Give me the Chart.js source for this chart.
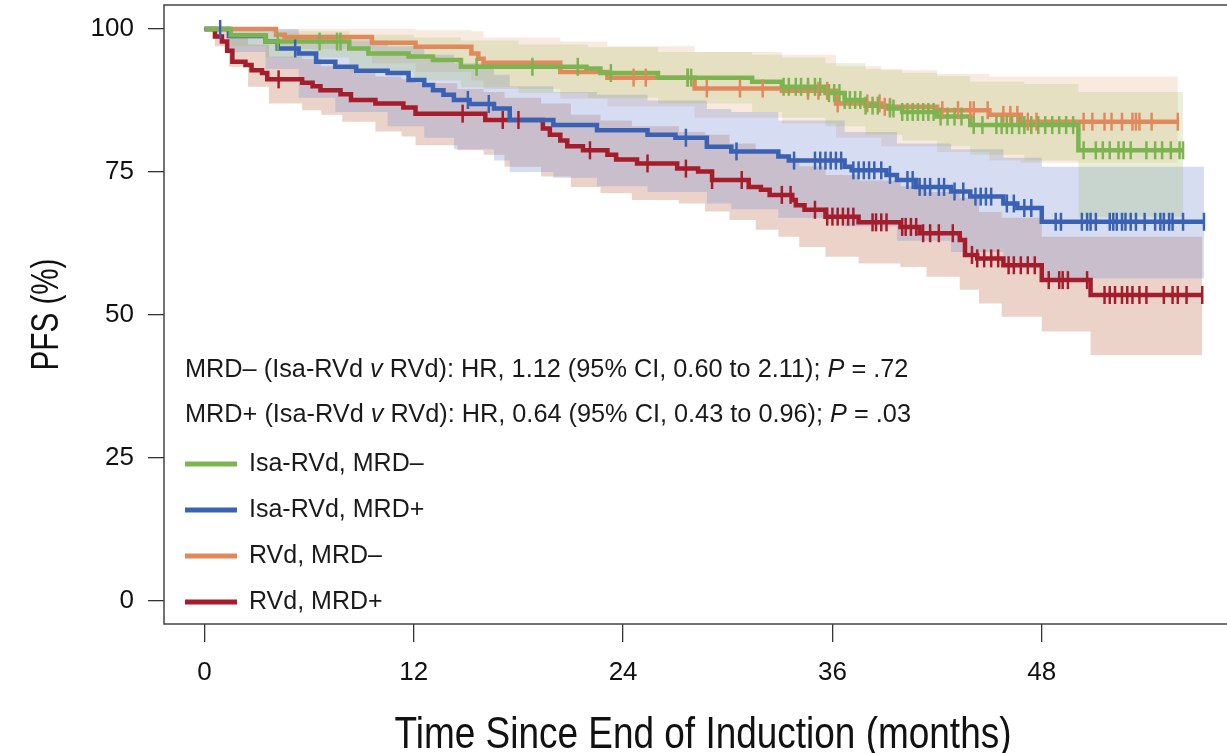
<!DOCTYPE html>
<html lang="en">
<head>
<meta charset="UTF-8">
<title>PFS by MRD status</title>
<style>
  body { margin: 0; background: #fff; }
  #wrap { width: 1227px; height: 753px; }
</style>
</head>
<body>
<div id="wrap"><canvas id="pfsChart" width="1227" height="753"></canvas></div>
<script src="https://cdn.jsdelivr.net/npm/chart.js"></script>
<script>
// axis ticks
const xTicks = [0, 12, 24, 36, 48];
const yTicks = [0, 25, 50, 75, 100];
const seriesNames = ['Isa-RVd, MRD–', 'Isa-RVd, MRD+', 'RVd, MRD–', 'RVd, MRD+'];
const xTitle = 'Time Since End of Induction (months)';
const yTitle = 'PFS (%)';

// Isa-RVd, MRD– : KM steps (months, PFS %)
const isaNegT = [0, 1.5, 3.5, 8.3, 9.4, 11.7, 13.1, 14.7, 21.9, 22.7, 26.0, 31.4, 33.1, 35.6, 36.7, 37.9, 39.1, 40.0, 42.0, 43.9, 50.1, 56.1];
const isaNegS = [100, 98.9, 97.8, 96.6, 95.7, 95.2, 94.6, 93.4, 93.1, 92.3, 91.5, 90.8, 89.9, 88.8, 87.6, 86.6, 86.1, 85.5, 84.7, 83.2, 78.8, 78.8];
const isaNegCiT = [0, 1.5, 3.5, 8.3, 12.0, 14.7, 18.0, 22.0, 26.0, 31.4, 33.1, 35.6, 37.9, 40.0, 42.0, 43.9, 47.0, 50.1, 56.1];
const isaNegLo = [100, 97.0, 95.0, 92.5, 91.0, 89.8, 88.8, 88.0, 87.0, 85.5, 84.5, 83.0, 81.5, 80.5, 79.5, 78.0, 77.0, 67.2, 67.2];
const isaNegHi = [100, 100, 99.6, 99.0, 98.5, 98.0, 97.3, 96.8, 96.0, 95.5, 95.0, 94.0, 93.0, 92.3, 91.8, 90.8, 90.4, 89.0, 89.0];
const isaNegCens = [4.2, 6.6, 7.6, 7.8, 15.6, 18.8, 21.4, 23.3, 27.7, 27.9, 33.2, 33.5, 33.9, 34.2, 34.6, 35.0, 35.3, 35.8, 36.1, 36.4, 36.7, 37.0, 37.3, 37.6, 37.9, 38.3, 38.6, 39.3, 39.5, 40.0, 40.3, 40.6, 40.9, 41.2, 41.5, 41.8, 42.2, 42.6, 43.0, 43.4, 44.1, 44.6, 45.4, 45.7, 46.0, 46.3, 46.7, 47.0, 47.4, 47.8, 48.2, 48.6, 49.0, 49.4, 49.8, 50.4, 51.1, 51.5, 51.9, 52.4, 52.7, 53.1, 54.0, 54.5, 54.9, 55.4, 55.9, 56.1];

// Isa-RVd, MRD+
const isaPosT = [0, 1.4, 3.5, 4.2, 5.4, 6.4, 7.5, 8.7, 10.5, 11.7, 12.6, 13.1, 13.7, 14.3, 15.2, 16.6, 17.5, 20.0, 22.5, 25.4, 27.0, 28.8, 30.2, 32.9, 33.5, 36.7, 37.1, 39.1, 39.7, 40.8, 42.8, 43.9, 45.8, 46.6, 48.0, 57.3];
const isaPosS = [100, 98.8, 97.8, 96.6, 95.7, 94.3, 93.4, 92.7, 92.3, 91.1, 90.2, 89.3, 88.5, 87.6, 86.9, 86.1, 84.1, 83.2, 82.3, 81.5, 81.0, 79.4, 78.6, 77.7, 77.0, 75.9, 75.3, 74.5, 73.6, 72.4, 71.6, 70.7, 69.5, 68.7, 66.3, 66.3];
const isaPosCiT = [0, 1.4, 3.5, 5.4, 7.5, 10.5, 12.6, 14.3, 16.6, 17.5, 20.0, 22.5, 25.4, 28.8, 30.2, 32.9, 36.7, 39.7, 42.8, 45.8, 48.0, 57.3];
const isaPosLo = [100, 96.0, 93.0, 88.0, 85.5, 83.0, 81.0, 79.0, 77.0, 75.0, 74.0, 72.5, 71.5, 69.5, 68.5, 67.0, 65.5, 63.0, 61.0, 59.0, 56.4, 56.4];
const isaPosHi = [100, 100, 100, 99.0, 98.0, 97.0, 95.5, 94.0, 92.0, 90.0, 89.0, 88.5, 87.5, 86.0, 85.5, 84.0, 82.0, 80.0, 79.0, 77.5, 75.9, 75.9];
const isaPosCens = [0.9, 5.2, 15.1, 16.3, 27.6, 30.5, 33.8, 35.0, 35.3, 35.6, 35.9, 36.2, 36.5, 37.2, 37.5, 37.8, 38.1, 38.4, 38.8, 39.3, 40.3, 40.6, 41.0, 41.3, 41.6, 42.1, 42.4, 43.0, 43.5, 44.2, 44.5, 44.8, 45.1, 46.0, 46.4, 47.0, 47.4, 48.8, 49.1, 50.3, 50.6, 50.8, 51.1, 51.9, 52.1, 52.3, 52.6, 52.8, 53.1, 53.4, 53.9, 54.5, 54.8, 55.0, 55.3, 55.5, 56.1, 57.3];

// RVd, MRD–
const rvdNegT = [0, 4.1, 4.6, 9.6, 12.1, 15.3, 15.7, 16.0, 20.4, 23.1, 28.1, 33.1, 36.2, 38.8, 42.0, 45.0, 46.8, 55.8];
const rvdNegS = [100, 99.0, 98.6, 97.6, 96.9, 95.7, 94.8, 94.1, 92.5, 91.5, 89.6, 89.2, 87.0, 86.4, 85.8, 85.0, 83.8, 83.8];
const rvdNegCiT = [0, 4.1, 9.6, 12.1, 15.3, 16.0, 20.4, 23.1, 28.1, 33.1, 36.2, 38.8, 42.0, 45.0, 46.8, 55.8];
const rvdNegLo = [100, 96.5, 94.0, 92.5, 91.0, 89.5, 87.8, 86.5, 84.5, 83.5, 81.0, 79.5, 78.5, 77.0, 76.6, 76.6];
const rvdNegHi = [100, 100, 100, 99.8, 99.6, 98.5, 97.8, 97.0, 96.0, 95.5, 93.5, 92.8, 92.2, 91.7, 91.7, 91.7];
const rvdNegCens = [24.6, 25.3, 27.7, 28.8, 30.7, 32.0, 34.6, 35.2, 35.7, 36.3, 38.0, 38.7, 39.0, 39.3, 42.3, 43.2, 43.9, 44.1, 44.9, 45.8, 46.2, 46.6, 47.2, 47.7, 50.4, 50.9, 51.6, 52.0, 52.6, 53.2, 53.4, 53.6, 54.3, 55.8];

// RVd, MRD+
const rvdPosT = [0, 0.6, 1.0, 1.3, 1.6, 2.35, 2.7, 3.3, 3.6, 5.6, 6.2, 6.65, 7.8, 8.4, 9.8, 11.4, 12.1, 16.1, 19.4, 19.8, 20.4, 20.8, 21.7, 23.1, 23.6, 24.8, 27.1, 28.3, 29.1, 31.2, 31.9, 32.4, 33.7, 33.9, 34.4, 35.6, 37.5, 39.9, 41.0, 43.3, 43.6, 44.3, 45.8, 48.0, 50.8, 57.2];
const rvdPosS = [100, 98.7, 97.8, 96.2, 94.3, 93.7, 92.8, 92.3, 91.2, 90.6, 90.0, 89.3, 88.6, 87.6, 87.0, 86.3, 85.2, 84.1, 82.6, 81.5, 80.5, 79.5, 78.8, 78.0, 77.2, 76.5, 75.6, 75.1, 73.6, 72.4, 71.9, 71.0, 70.1, 69.2, 68.4, 67.2, 66.2, 65.4, 64.3, 63.1, 60.5, 59.9, 58.7, 56.1, 53.5, 53.5];
const rvdPosCiT = [0, 0.6, 1.4, 2.5, 3.7, 5.6, 6.7, 7.9, 9.8, 11.3, 12.1, 14.5, 16.0, 17.2, 19.3, 21.0, 22.7, 24.5, 27.2, 28.7, 30.1, 31.6, 32.9, 34.1, 35.6, 37.5, 39.9, 41.4, 43.3, 44.4, 45.7, 48.0, 50.8, 57.2];
const rvdPosLo = [100, 97.0, 93.4, 89.9, 87.0, 85.8, 85.0, 83.8, 82.1, 81.2, 79.7, 78.8, 78.0, 75.9, 74.2, 72.4, 71.3, 70.1, 69.5, 68.1, 66.6, 64.9, 63.7, 61.9, 60.2, 59.0, 58.4, 56.7, 54.4, 52.0, 49.7, 47.1, 43.0, 43.0];
const rvdPosHi = [100, 100, 99.0, 97.3, 95.2, 94.8, 93.5, 93.0, 91.7, 91.2, 90.5, 89.5, 89.0, 88.0, 87.0, 85.0, 84.0, 83.0, 82.0, 81.5, 80.0, 78.5, 77.5, 76.0, 74.5, 73.5, 72.5, 71.5, 70.5, 68.0, 67.0, 63.7, 63.7, 63.7];
const rvdPosCens = [4.25, 14.8, 17.1, 18.0, 22.1, 25.4, 27.6, 29.1, 30.8, 33.1, 33.6, 35.0, 35.7, 36.0, 36.3, 36.6, 36.9, 37.2, 38.3, 38.5, 38.8, 39.1, 40.0, 40.2, 40.5, 40.8, 41.2, 41.6, 42.1, 42.9, 44.0, 44.3, 44.7, 45.1, 45.5, 46.1, 46.4, 46.8, 47.2, 47.6, 48.4, 49.0, 49.2, 49.5, 50.6, 51.6, 51.9, 52.2, 52.6, 52.9, 53.2, 53.6, 54.0, 55.0, 55.5, 55.8, 56.3, 57.2];

// hazard ratio notes drawn inside the plot (text, italic flag)
const hrLines = [
    [['MRD– (Isa-RVd ', false], ['v', true], [' RVd): HR, 1.12 (95% CI, 0.60 to 2.11); ', false], ['P', true], [' = .72', false]],
    [['MRD+ (Isa-RVd ', false], ['v', true], [' RVd): HR, 0.64 (95% CI, 0.43 to 0.96); ', false], ['P', true], [' = .03', false]]
];

const groups = [
    { name: seriesNames[0], t: isaNegT, s: isaNegS, ciT: isaNegCiT, lo: isaNegLo, hi: isaNegHi, cens: isaNegCens, color: '#7cb44f', band: 'rgba(150, 185, 80, 0.22)' },
    { name: seriesNames[1], t: isaPosT, s: isaPosS, ciT: isaPosCiT, lo: isaPosLo, hi: isaPosHi, cens: isaPosCens, color: '#3a62b4', band: 'rgba(120, 140, 210, 0.30)' },
    { name: seriesNames[2], t: rvdNegT, s: rvdNegS, ciT: rvdNegCiT, lo: rvdNegLo, hi: rvdNegHi, cens: rvdNegCens, color: '#e2895c', band: 'rgba(225, 150, 100, 0.20)' },
    { name: seriesNames[3], t: rvdPosT, s: rvdPosS, ciT: rvdPosCiT, lo: rvdPosLo, hi: rvdPosHi, cens: rvdPosCens, color: '#a51d2b', band: 'rgba(190, 110, 80, 0.30)' }
];

// KM value at time t (step lookup)
function survAt(times, surv, t) {
    let v = surv[0];
    for (let i = 0; i < times.length; i++) {
        if (times[i] <= t) v = surv[i]; else break;
    }
    return v;
}

const censorSets = groups.map(g => ({
    label: g.name + ' censored',
    data: g.cens.map(c => ({ x: c, y: survAt(g.t, g.s, c) })),
    showLine: false,
    pointStyle: 'line',
    pointRotation: 90,
    pointRadius: 9,
    pointHoverRadius: 9,
    pointBorderWidth: 2.5,
    borderColor: g.color,
    backgroundColor: g.color,
    order: 0
}));

const lineSets = groups.map(g => ({
    label: g.name,
    data: g.t.map((t, i) => ({ x: t, y: g.s[i] })),
    stepped: true,
    borderColor: g.color,
    borderWidth: 4.5,
    pointRadius: 0,
    fill: false,
    order: 1
}));

const bandSets = [];
groups.forEach(g => {
    bandSets.push({
        label: g.name + ' upper',
        data: g.ciT.map((t, i) => ({ x: t, y: g.hi[i] })),
        stepped: true, borderWidth: 0, borderColor: 'transparent', pointRadius: 0,
        fill: '+1', backgroundColor: g.band, order: 2
    });
    bandSets.push({
        label: g.name + ' lower',
        data: g.ciT.map((t, i) => ({ x: t, y: g.lo[i] })),
        stepped: true, borderWidth: 0, borderColor: 'transparent', pointRadius: 0,
        fill: false, order: 2
    });
});

const regular = '"Liberation Sans", Arial, sans-serif';

// box around the plot area
const frame = {
    id: 'frame',
    afterDraw(chart) {
        const { ctx, chartArea: a } = chart;
        ctx.save();
        ctx.strokeStyle = '#444';
        ctx.lineWidth = 1.5;
        ctx.beginPath();
        ctx.moveTo(a.right, a.top);
        ctx.lineTo(a.left, a.top);
        ctx.lineTo(a.left, a.bottom);
        ctx.lineTo(a.right, a.bottom);
        ctx.stroke();
        ctx.restore();
    }
};

// condensed axis titles (no narrow font installed, so squeeze horizontally)
const axisTitles = {
    id: 'axisTitles',
    afterDraw(chart) {
        const { ctx, chartArea: a } = chart;
        ctx.save();
        ctx.fillStyle = '#111';
        ctx.textAlign = 'center';
        ctx.textBaseline = 'alphabetic';
        ctx.font = '44px ' + regular;
        ctx.save();
        ctx.translate(703, 748);
        ctx.scale(0.84, 1);
        ctx.fillText(xTitle, 0, 0);
        ctx.restore();
        ctx.font = '38px ' + regular;
        ctx.translate(58, (a.top + a.bottom) / 2);
        ctx.rotate(-Math.PI / 2);
        ctx.scale(0.78, 1);
        ctx.fillText(yTitle, 0, 0);
        ctx.restore();
    }
};

// HR text and legend inside the plot
const notes = {
    id: 'notes',
    afterDatasetsDraw(chart) {
        const { ctx, chartArea: a } = chart;
        const x0 = a.left + 21;
        ctx.save();
        ctx.fillStyle = '#1a1a1a';
        ctx.textBaseline = 'middle';
        ctx.textAlign = 'left';
        [370, 415].forEach((y, li) => {
            let x = x0;
            hrLines[li].forEach(([txt, it]) => {
                ctx.font = (it ? 'italic ' : '') + '25.3px ' + regular;
                ctx.fillText(txt, x, y);
                x += ctx.measureText(txt).width;
            });
        });
        [464, 510, 556, 602].forEach((y, i) => {
            ctx.strokeStyle = groups[i].color;
            ctx.lineWidth = 5;
            ctx.beginPath();
            ctx.moveTo(x0, y);
            ctx.lineTo(x0 + 52, y);
            ctx.stroke();
            ctx.font = '25px ' + regular;
            ctx.fillText(groups[i].name, x0 + 64, y);
        });
        ctx.restore();
    }
};

new Chart(document.getElementById('pfsChart'), {
    type: 'line',
    data: { datasets: [...censorSets, ...lineSets, ...bandSets] },
    options: {
        responsive: false,
        animation: false,
        layout: { autoPadding: false, padding: { top: 5, left: 0, right: 0, bottom: 0 } },
        plugins: { legend: { display: false }, tooltip: { enabled: false } },
        scales: {
            x: {
                type: 'linear',
                min: -2.32,
                max: 58.62,
                afterBuildTicks: s => { s.ticks = xTicks.map(v => ({ value: v })); },
                afterFit: s => { s.height = 129; s.paddingLeft = 0; s.paddingRight = 0; },
                grid: { drawOnChartArea: false, drawTicks: true, tickLength: 18, color: '#333', lineWidth: 1.3 },
                border: { display: false },
                ticks: { font: { family: regular, size: 26 }, color: '#111', padding: 15, maxRotation: 0, autoSkip: false }
            },
            y: {
                min: -4.02,
                max: 104.2,
                afterBuildTicks: s => { s.ticks = yTicks.map(v => ({ value: v })); },
                afterFit: s => { s.width = 164; s.paddingTop = 0; s.paddingBottom = 0; },
                grid: { drawOnChartArea: false, drawTicks: true, tickLength: 16, color: '#333', lineWidth: 1.3 },
                border: { display: false },
                ticks: { font: { family: regular, size: 26 }, color: '#111', padding: 14 }
            }
        }
    },
    plugins: [frame, axisTitles, notes]
});
</script>
</body>
</html>
